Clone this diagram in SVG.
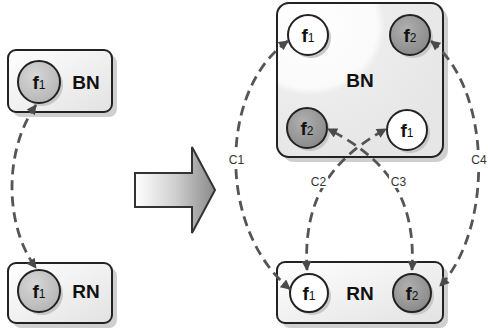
<svg xmlns="http://www.w3.org/2000/svg" width="488" height="333" viewBox="0 0 488 333">
<defs>
<linearGradient id="boxg" x1="0" y1="0" x2="1" y2="1"><stop offset="0" stop-color="#ffffff"/><stop offset="1" stop-color="#e2e2e2"/></linearGradient>
<radialGradient id="bigbox" cx="0.2" cy="0.15" r="0.9"><stop offset="0" stop-color="#ffffff"/><stop offset="0.45" stop-color="#fafafa"/><stop offset="0.5" stop-color="#ececec"/><stop offset="1" stop-color="#e6e6e6"/></radialGradient>
<radialGradient id="grayc" cx="0.4" cy="0.35" r="0.7"><stop offset="0" stop-color="#d8d8d8"/><stop offset="1" stop-color="#b4b4b4"/></radialGradient>
<radialGradient id="darkc" cx="0.4" cy="0.35" r="0.7"><stop offset="0" stop-color="#b0b0b0"/><stop offset="1" stop-color="#888888"/></radialGradient>
<linearGradient id="arrowg" x1="0" y1="0" x2="1" y2="0"><stop offset="0" stop-color="#ffffff"/><stop offset="0.5" stop-color="#d0d0d0"/><stop offset="1" stop-color="#8a8a8a"/></linearGradient>
<marker id="ah" viewBox="0 0 10 10" refX="9" refY="5" markerWidth="12" markerHeight="10" markerUnits="userSpaceOnUse" orient="auto-start-reverse"><path d="M0,0 L10,5 L0,10 Z" fill="#4a4a4a"/></marker>
</defs>
<style>
.box{stroke:#222;stroke-width:2;fill:url(#boxg)}
.shadow{fill:#cfcfcf}
.cshadow{fill:#c8c8c8}
.circ{stroke:#222;stroke-width:2}
.white{fill:#ffffff}
.gray{fill:url(#grayc)}
.dark{fill:url(#darkc)}
.f{font-family:"Liberation Sans",Arial,sans-serif;font-weight:bold;font-size:19px;fill:#111}
.sub{font-weight:normal;font-size:12px}
.lbl{font-family:"Liberation Sans",Arial,sans-serif;font-weight:bold;font-size:19px;fill:#111}
.c{font-family:"Liberation Sans",Arial,sans-serif;font-size:12px;fill:#333}
.conn{fill:none;stroke:#555;stroke-width:2.8;stroke-dasharray:10 6;marker-start:url(#ah);marker-end:url(#ah)}
.bg{fill:#ffffff}
</style>

<g id="big-arrow">
<polygon points="135,173 192,173 192,147 215,190 192,233 192,207 135,207" fill="url(#arrowg)" stroke="#333" stroke-width="2" stroke-linejoin="miter"/>
</g>

<g id="left-BN">
<rect class="shadow" x="13" y="55" width="104" height="62" rx="8"/>
<rect class="box" x="8" y="50" width="104" height="62" rx="8"/>
<circle class="cshadow" cx="42" cy="85" r="21"/>
<circle class="circ gray" cx="39" cy="82" r="21"/>
<text class="f" x="39" y="89" text-anchor="middle">f<tspan class="sub">1</tspan></text>
<text class="lbl" x="86" y="89" text-anchor="middle">BN</text>
</g>

<g id="left-RN">
<rect class="shadow" x="13" y="268" width="104" height="60" rx="8"/>
<rect class="box" x="8" y="263" width="104" height="60" rx="8"/>
<circle class="cshadow" cx="42" cy="294" r="21"/>
<circle class="circ gray" cx="39" cy="291" r="21"/>
<text class="f" x="39" y="298" text-anchor="middle">f<tspan class="sub">1</tspan></text>
<text class="lbl" x="86" y="298" text-anchor="middle">RN</text>
</g>

<g id="right-BN">
<rect class="shadow" x="282" y="8" width="166" height="154" rx="12"/>
<rect x="277" y="3" width="166" height="154" rx="12" fill="url(#bigbox)" stroke="#222" stroke-width="2"/>
<circle class="cshadow" cx="311" cy="38" r="20"/>
<circle class="circ white" cx="308" cy="35" r="20"/>
<text class="f" x="308" y="42" text-anchor="middle">f<tspan class="sub">1</tspan></text>
<circle class="cshadow" cx="413" cy="38" r="20"/>
<circle class="circ dark" cx="410" cy="35" r="20"/>
<text class="f" x="410" y="42" text-anchor="middle">f<tspan class="sub">2</tspan></text>
<circle class="cshadow" cx="310" cy="131" r="20"/>
<circle class="circ dark" cx="307" cy="128" r="20"/>
<text class="f" x="307" y="135" text-anchor="middle">f<tspan class="sub">2</tspan></text>
<circle class="cshadow" cx="410" cy="133" r="20"/>
<circle class="circ white" cx="407" cy="130" r="20"/>
<text class="f" x="407" y="137" text-anchor="middle">f<tspan class="sub">1</tspan></text>
<text class="lbl" x="360" y="87" text-anchor="middle">BN</text>
</g>

<g id="right-RN">
<rect class="shadow" x="282" y="267" width="166" height="61" rx="8"/>
<rect class="box" x="277" y="262" width="166" height="61" rx="8"/>
<circle class="cshadow" cx="312" cy="296" r="19"/>
<circle class="circ white" cx="309" cy="293" r="19"/>
<text class="f" x="309" y="300" text-anchor="middle">f<tspan class="sub">1</tspan></text>
<circle class="cshadow" cx="415" cy="296" r="19"/>
<circle class="circ dark" cx="412" cy="293" r="19"/>
<text class="f" x="412" y="300" text-anchor="middle">f<tspan class="sub">2</tspan></text>
<text class="lbl" x="360" y="300" text-anchor="middle">RN</text>
</g>

<g id="connectors">
<path class="conn" d="M36,105 C4,150 4,225 36,268"/>
<path class="conn" d="M288,41 C218,90 218,230 290,289"/>
<path class="conn" d="M431,41 C493,90 493,230 440,286"/>
<path class="conn" d="M307,270 C303,200 330,160 386,129"/>
<path class="conn" d="M412,270 C416,200 389,160 328,129"/>
<rect class="bg" x="227" y="152" width="19" height="14"/>
<text class="c" x="236.5" y="164" text-anchor="middle">C1</text>
<rect class="bg" x="309" y="174" width="19" height="14"/>
<text class="c" x="318.5" y="186" text-anchor="middle">C2</text>
<rect class="bg" x="389" y="174" width="19" height="14"/>
<text class="c" x="398.5" y="186" text-anchor="middle">C3</text>
<rect class="bg" x="469" y="152" width="19" height="14"/>
<text class="c" x="479" y="164" text-anchor="middle">C4</text>
</g>
</svg>
